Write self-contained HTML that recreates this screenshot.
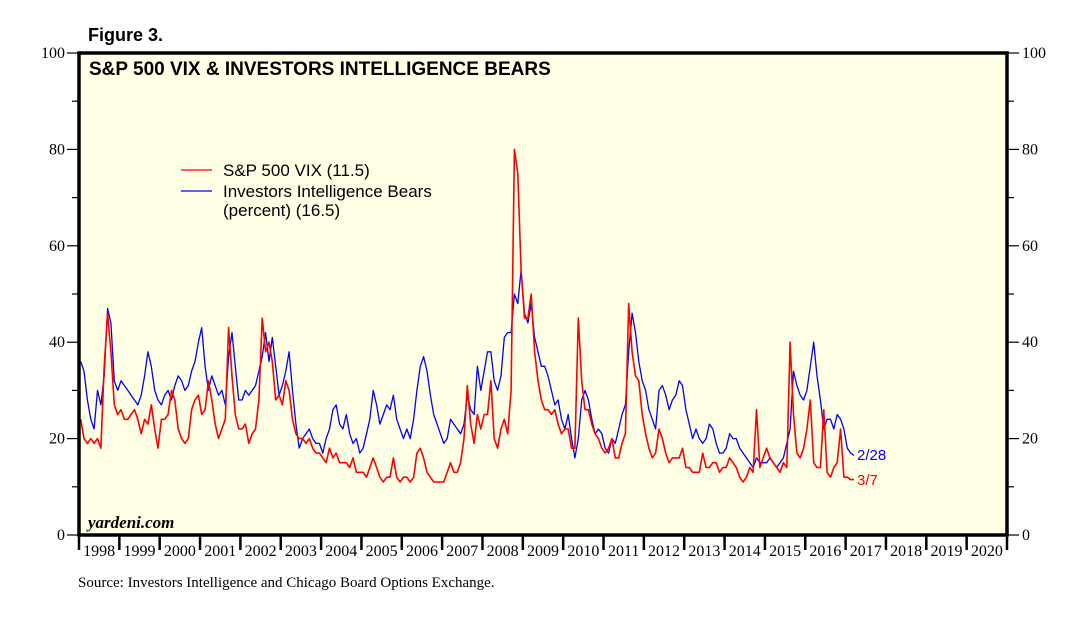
<!DOCTYPE html>
<html><head><meta charset="utf-8"><style>
body{margin:0;background:#fff;}
svg{display:block;}
</style></head><body>
<svg id="chart" width="1075" height="620" xmlns="http://www.w3.org/2000/svg">
<text x="88" y="41" font-family="Liberation Sans, sans-serif" font-weight="bold" font-size="18">Figure 3.</text>
<rect x="79" y="53" width="928" height="482" fill="#ffffe6"/>
<g id="grid"></g>
<g id="series"></g>
<rect x="79" y="53" width="928" height="482" fill="none" stroke="#000" stroke-width="3.5"/>
<text x="89" y="75" font-family="Liberation Sans, sans-serif" font-weight="bold" font-size="19">S&amp;P 500 VIX &amp; INVESTORS INTELLIGENCE BEARS</text>
<line x1="181" y1="170" x2="212" y2="170" stroke="#f00" stroke-width="1.2"/>
<text x="223" y="176" font-family="Liberation Sans, sans-serif" font-size="17">S&amp;P 500 VIX (11.5)</text>
<line x1="181" y1="191" x2="212" y2="191" stroke="#00f" stroke-width="1.2"/>
<text x="223" y="197" font-family="Liberation Sans, sans-serif" font-size="17">Investors Intelligence Bears</text>
<text x="223" y="216" font-family="Liberation Sans, sans-serif" font-size="17">(percent) (16.5)</text>
<text x="88" y="528" font-family="Liberation Serif, serif" font-style="italic" font-weight="bold" font-size="17">yardeni.com</text>
<text x="857" y="460" fill="#00f" font-family="Liberation Sans, sans-serif" font-size="15">2/28</text>
<text x="857" y="485" fill="#f00" font-family="Liberation Sans, sans-serif" font-size="15">3/7</text>
<text x="78" y="587" font-family="Liberation Serif, serif" font-size="15">Source: Investors Intelligence and Chicago Board Options Exchange.</text>
</svg>
<script>
const yTicks=[0,20,40,60,80,100];
const years=[1998,1999,2000,2001,2002,2003,2004,2005,2006,2007,2008,2009,2010,2011,2012,2013,2014,2015,2016,2017,2018,2019,2020];
const vix=[
24,20,19,20,19,20,18,35,46,38,27,25,
26,24,24,25,26,24,21,24,23,27,22,18,
24,24,25,30,28,22,20,19,20,26,28,29,
25,26,32,28,23,20,22,24,43,33,25,22,
22,23,19,21,22,28,45,38,40,36,28,29,
27,32,30,24,21,20,20,19,20,18,17,17,
16,15,18,16,17,15,15,15,14,16,13,13,
13,12,14,16,14,12,11,12,12,16,12,11,
12,12,11,12,17,18,16,13,12,11,11,11,
11,13,15,13,13,15,20,31,23,19,25,22,
25,25,32,20,18,22,24,21,30,80,75,55,
45,45,50,38,32,28,26,26,25,26,23,21,
22,22,18,18,45,32,26,26,23,21,20,18,
17,18,20,16,16,19,21,48,38,33,32,25,
21,18,16,17,22,20,17,15,16,16,16,18,
14,14,13,13,13,17,14,14,15,15,13,14,
14,16,15,14,12,11,12,14,13,26,14,16,
18,16,15,14,13,15,14,40,25,17,16,18,
22,28,15,14,14,26,13,12,14,15,22,12,
12,11.5,11.5];
const bears=[
36,34,28,24,22,30,27,33,47,44,32,30,
32,31,30,29,28,27,29,33,38,35,30,28,
27,29,30,28,31,33,32,30,31,34,36,40,
43,35,30,33,31,29,30,27,37,42,35,28,
28,30,29,30,31,34,37,42,36,41,35,29,
31,34,38,30,23,18,20,21,22,20,19,19,
17,20,22,26,27,23,22,25,21,19,20,17,
18,21,24,30,27,23,25,27,26,29,24,22,
20,22,20,24,30,35,37,34,29,25,23,21,
19,20,24,23,22,21,23,29,26,25,35,30,
34,38,38,32,30,33,41,42,42,50,48,55,
46,44,48,41,38,35,35,33,30,27,28,24,
22,25,20,16,20,28,30,28,24,21,22,21,
18,17,20,19,22,25,27,38,46,42,36,32,
30,26,24,22,30,31,29,26,28,29,32,31,
26,23,20,22,20,19,20,23,22,19,17,17,
18,21,20,20,18,17,16,15,14,16,15,15,
15,16,15,14,15,16,19,22,34,31,29,28,
30,35,40,33,28,22,24,24,22,25,24,22,
18,17,16.5];
const X0=79,X1=1007,Y0=535,Y1=53,T0=1998,T1=2021;
const xs=t=>X0+(t-T0)/(T1-T0)*(X1-X0);
const ys=v=>Y0-v/100*(Y0-Y1);
const NS='http://www.w3.org/2000/svg';
const grid=document.getElementById('grid'),ser=document.getElementById('series');
function mk(tag,attrs,parent){const e=document.createElementNS(NS,tag);for(const k in attrs)e.setAttribute(k,attrs[k]);parent.appendChild(e);return e;}
for(let v=0;v<=100;v+=10){
  const major=v%20===0,y=ys(v);
  const l=mk('line',{x1:X0-(major?12:7),x2:X0,y1:y,y2:y,stroke:'#000','stroke-width':1.2},grid);
  
  
  const r=mk('line',{x1:X1,x2:X1+(major?12:7),y1:y,y2:y,stroke:'#000','stroke-width':1.2},grid);
  
  
}
yTicks.forEach(v=>{
  const y=ys(v)+5;
  const a=mk('text',{x:X0-14,y:y,'text-anchor':'end','font-family':'Liberation Serif, serif','font-size':16},grid);
  a.textContent=v;
  
  
  const b=mk('text',{x:X1+15,y:y,'font-family':'Liberation Serif, serif','font-size':16},grid);
  b.textContent=v;
  
  
});
years.forEach(yr=>{
  const x=xs(yr);
  const t=mk('line',{x1:x,x2:x,y1:Y0,y2:Y0+15,stroke:'#000','stroke-width':2.5},grid);
  
  
  const lb=mk('text',{x:xs(yr+0.5),y:556,'text-anchor':'middle','font-family':'Liberation Serif, serif','font-size':16},grid);
  lb.textContent=yr;
  
  
});
{const t=mk('line',{x1:X1,x2:X1,y1:Y0,y2:Y0+15,stroke:'#000','stroke-width':2.5},grid);

}
function path(arr,color,name,w){
  const d=arr.map((v,i)=>(i?'L':'M')+xs(T0+(i+0.5)/12).toFixed(1)+','+ys(v).toFixed(1)).join('');
  const p=mk('path',{d:d,fill:'none',stroke:color,'stroke-width':w,'stroke-linejoin':'round'},ser);
  
  
}
path(bears,'#00f','bears-line',1.3);
path(vix,'#f00','vix-line',1.6);
</script>
</body></html>
